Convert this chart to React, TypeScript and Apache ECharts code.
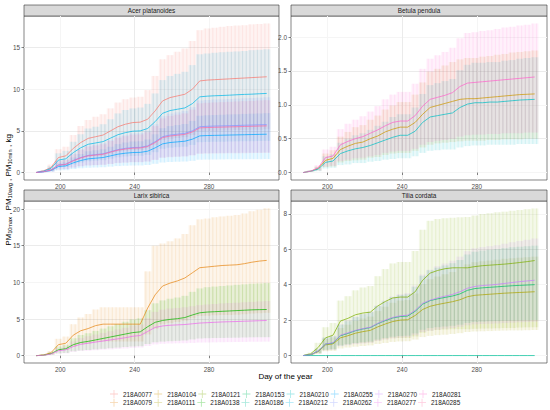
import React, { useEffect, useRef } from "react";
import * as echarts from "echarts";

// ---------- data ----------
const DAYS = [187, 191, 195, 199, 203, 207, 211, 215, 219, 223, 227, 231, 235, 239, 243, 247, 251, 255, 259, 263, 267, 271, 275, 279, 283, 287, 291, 295, 299, 303, 307, 311];

const PANELS = ["Acer platanoides", "Betula pendula", "Larix sibirica", "Tilia cordata"];
const X_TICKS = [200, 240, 280];
const Y_TICKS = [[0, 5, 10, 15], [0, 0.5, 1, 1.5, 2], [0, 5, 10, 15, 20], [0, 2, 4, 6, 8]];
const Y_MIN = [-0.9, -0.11, -1.0, -0.42];
const Y_MAX = [18.8, 2.31, 21.1, 8.72];
const Y_STEP = [2.5, 0.25, 2.5, 1];
const X_MIN = 180.5;
const X_MAX = 317.6;
const X_STEP = 20;

const LEGEND_ROW1 = ["218A0077", "218A0104", "218A0121", "218A0153", "218A0210", "218A0255", "218A0270", "218A0281"];
const LEGEND_ROW2 = ["218A0079", "218A0111", "218A0138", "218A0186", "218A0212", "218A0262", "218A0277", "218A0285"];

const COLORS: Record<string, string> = {
  "218A0077": "#F8766D", "218A0079": "#E68613", "218A0104": "#CD9600", "218A0111": "#ABA300",
  "218A0121": "#7CAE00", "218A0138": "#0CB702", "218A0153": "#00BE67", "218A0186": "#00C19A",
  "218A0210": "#00BFC4", "218A0212": "#00B8E7", "218A0255": "#00A9FF", "218A0262": "#8494FF",
  "218A0270": "#C77CFF", "218A0277": "#ED68ED", "218A0281": "#FF61CC", "218A0285": "#FF68A1",
};

// Acer platanoides
const A0077_MEAN = [0, 0.2, 0.6, 1.8, 2.0, 2.9, 3.6, 4.1, 4.3, 4.5, 5.0, 5.5, 5.8, 6.0, 6.05, 6.4, 7.4, 8.6, 9.0, 9.2, 9.4, 10.0, 11.0, 11.1, 11.15, 11.2, 11.25, 11.3, 11.35, 11.4, 11.45, 11.5];
const A0077_HI = [0, 0.3, 0.95, 2.8, 3.1, 4.5, 5.6, 6.3, 6.7, 7.0, 7.7, 8.4, 8.8, 9.0, 9.1, 9.9, 11.6, 13.6, 14.1, 14.5, 14.9, 15.8, 17.1, 17.3, 17.4, 17.5, 17.6, 17.65, 17.7, 17.8, 17.85, 17.9];
const A0077_LO = [0, 0.09, 0.27, 0.8, 0.9, 1.3, 1.6, 1.85, 1.95, 2.0, 2.25, 2.5, 2.6, 2.7, 2.7, 2.9, 3.3, 3.9, 4.05, 4.15, 4.25, 4.5, 4.95, 5.0, 5.0, 5.05, 5.05, 5.1, 5.1, 5.15, 5.15, 5.2];

const A0212_MEAN = [0, 0.16, 0.49, 1.49, 1.65, 2.39, 2.97, 3.39, 3.55, 3.71, 4.13, 4.54, 4.79, 4.96, 5.0, 5.29, 6.11, 7.11, 7.44, 7.6, 7.76, 8.27, 9.09, 9.17, 9.22, 9.25, 9.29, 9.34, 9.38, 9.41, 9.46, 9.5];
const A0212_HI = [0, 0.25, 0.76, 2.3, 2.6, 3.7, 4.6, 5.3, 5.5, 5.8, 6.4, 7.1, 7.5, 7.7, 7.8, 8.25, 9.5, 11.1, 11.6, 11.85, 12.1, 12.9, 14.2, 14.3, 14.4, 14.45, 14.5, 14.55, 14.6, 14.7, 14.75, 14.8];
const A0212_LO = [0, 0.06, 0.2, 0.6, 0.66, 0.96, 1.19, 1.36, 1.42, 1.48, 1.65, 1.82, 1.92, 1.98, 2.0, 2.12, 2.44, 2.84, 2.98, 3.04, 3.1, 3.31, 3.64, 3.67, 3.69, 3.7, 3.72, 3.74, 3.75, 3.76, 3.78, 3.8];

const A0262_MEAN = [0, 0.1, 0.3, 0.9, 1.0, 1.45, 1.8, 2.05, 2.15, 2.25, 2.5, 2.75, 2.9, 3.0, 3.02, 3.2, 3.7, 4.3, 4.5, 4.6, 4.7, 5.0, 5.5, 5.55, 5.58, 5.6, 5.62, 5.65, 5.68, 5.7, 5.73, 5.75];
const A0262_HI = [0, 0.16, 0.47, 1.41, 1.57, 2.28, 2.83, 3.22, 3.38, 3.53, 3.93, 4.32, 4.55, 4.71, 4.74, 5.02, 5.81, 6.75, 7.07, 7.22, 7.38, 7.85, 8.64, 8.71, 8.76, 8.79, 8.82, 8.87, 8.92, 8.95, 8.99, 9.03];
const A0262_LO = [0, 0.04, 0.13, 0.38, 0.42, 0.61, 0.76, 0.86, 0.9, 0.95, 1.05, 1.16, 1.22, 1.26, 1.27, 1.34, 1.55, 1.81, 1.89, 1.93, 1.97, 2.1, 2.31, 2.33, 2.34, 2.35, 2.36, 2.37, 2.39, 2.39, 2.41, 2.42];

const A0285_MEAN = [0, 0.1, 0.29, 0.88, 0.97, 1.41, 1.75, 2.0, 2.09, 2.19, 2.44, 2.68, 2.82, 2.92, 2.95, 3.12, 3.6, 4.19, 4.38, 4.48, 4.58, 4.87, 5.36, 5.4, 5.43, 5.45, 5.48, 5.5, 5.53, 5.55, 5.58, 5.6];
const A0285_HI = [0, 0.15, 0.45, 1.36, 1.5, 2.19, 2.71, 3.1, 3.24, 3.39, 3.78, 4.15, 4.37, 4.53, 4.57, 4.84, 5.58, 6.49, 6.79, 6.94, 7.1, 7.55, 8.31, 8.37, 8.42, 8.45, 8.49, 8.53, 8.57, 8.6, 8.65, 8.68];
const A0285_LO = [0, 0.04, 0.12, 0.37, 0.41, 0.59, 0.74, 0.84, 0.88, 0.92, 1.02, 1.13, 1.18, 1.23, 1.24, 1.31, 1.51, 1.76, 1.84, 1.88, 1.92, 2.05, 2.25, 2.27, 2.28, 2.29, 2.3, 2.31, 2.32, 2.33, 2.34, 2.35];

const A0255_MEAN = [0, 0.08, 0.24, 0.72, 0.8, 1.16, 1.44, 1.64, 1.72, 1.8, 2.0, 2.2, 2.32, 2.4, 2.42, 2.56, 2.96, 3.44, 3.6, 3.68, 3.76, 4.0, 4.4, 4.44, 4.46, 4.48, 4.5, 4.52, 4.54, 4.56, 4.58, 4.6];
const A0255_HI = [0, 0.12, 0.37, 1.12, 1.24, 1.8, 2.23, 2.54, 2.67, 2.79, 3.1, 3.41, 3.6, 3.72, 3.75, 3.97, 4.59, 5.33, 5.58, 5.7, 5.83, 6.2, 6.82, 6.88, 6.91, 6.94, 6.98, 7.0, 7.04, 7.07, 7.1, 7.13];
const A0255_LO = [0, 0.03, 0.08, 0.25, 0.28, 0.41, 0.5, 0.57, 0.6, 0.63, 0.7, 0.77, 0.81, 0.84, 0.85, 0.9, 1.04, 1.2, 1.26, 1.29, 1.32, 1.4, 1.54, 1.55, 1.56, 1.57, 1.58, 1.58, 1.59, 1.6, 1.6, 1.61];

// Betula pendula
const B0281_MEAN = [0, 0.02, 0.07, 0.22, 0.245, 0.41, 0.46, 0.5, 0.53, 0.58, 0.63, 0.69, 0.74, 0.76, 0.76, 0.84, 0.98, 1.08, 1.11, 1.14, 1.18, 1.27, 1.32, 1.33, 1.34, 1.35, 1.36, 1.37, 1.38, 1.39, 1.4, 1.41];
const B0281_HI = [0, 0.03, 0.11, 0.34, 0.38, 0.64, 0.72, 0.78, 0.83, 0.9, 0.98, 1.08, 1.15, 1.19, 1.19, 1.31, 1.53, 1.68, 1.73, 1.78, 1.84, 1.98, 2.06, 2.07, 2.09, 2.1, 2.12, 2.14, 2.15, 2.17, 2.18, 2.2];
const B0281_LO = [0, 0.01, 0.03, 0.09, 0.1, 0.17, 0.19, 0.21, 0.22, 0.24, 0.26, 0.29, 0.31, 0.32, 0.32, 0.35, 0.41, 0.45, 0.47, 0.48, 0.5, 0.53, 0.55, 0.56, 0.56, 0.57, 0.57, 0.58, 0.58, 0.58, 0.59, 0.59];

const B0104_MEAN = [0, 0.02, 0.06, 0.18, 0.21, 0.34, 0.39, 0.43, 0.45, 0.5, 0.54, 0.6, 0.64, 0.67, 0.67, 0.74, 0.86, 0.96, 0.99, 1.02, 1.05, 1.08, 1.09, 1.09, 1.1, 1.11, 1.12, 1.13, 1.14, 1.15, 1.155, 1.16];
const B0104_HI = [0, 0.03, 0.09, 0.28, 0.33, 0.53, 0.6, 0.67, 0.7, 0.78, 0.84, 0.93, 0.99, 1.04, 1.04, 1.15, 1.33, 1.49, 1.53, 1.58, 1.63, 1.67, 1.69, 1.69, 1.71, 1.72, 1.74, 1.75, 1.77, 1.78, 1.79, 1.8];
const B0104_LO = [0, 0.01, 0.03, 0.08, 0.09, 0.15, 0.17, 0.18, 0.19, 0.22, 0.23, 0.26, 0.28, 0.29, 0.29, 0.32, 0.37, 0.41, 0.43, 0.44, 0.45, 0.46, 0.47, 0.47, 0.47, 0.48, 0.48, 0.49, 0.49, 0.49, 0.5, 0.5];

const B0210_MEAN = [0, 0.02, 0.05, 0.15, 0.17, 0.28, 0.32, 0.35, 0.37, 0.4, 0.44, 0.48, 0.52, 0.55, 0.55, 0.61, 0.74, 0.82, 0.84, 0.86, 0.88, 0.96, 1.01, 1.03, 1.03, 1.04, 1.04, 1.05, 1.06, 1.07, 1.075, 1.08];
const B0210_HI = [0, 0.03, 0.08, 0.24, 0.27, 0.44, 0.5, 0.55, 0.58, 0.63, 0.69, 0.75, 0.82, 0.86, 0.86, 0.96, 1.16, 1.29, 1.32, 1.35, 1.38, 1.51, 1.59, 1.62, 1.62, 1.63, 1.63, 1.65, 1.66, 1.68, 1.69, 1.7];
const B0210_LO = [0, 0.01, 0.02, 0.06, 0.07, 0.11, 0.12, 0.14, 0.14, 0.16, 0.17, 0.19, 0.2, 0.21, 0.21, 0.24, 0.29, 0.32, 0.33, 0.34, 0.34, 0.37, 0.39, 0.4, 0.4, 0.41, 0.41, 0.41, 0.41, 0.42, 0.42, 0.42];

// Larix sibirica
const L0079_MEAN = [0, 0.1, 0.4, 1.5, 1.7, 2.8, 3.4, 3.7, 4.1, 4.3, 4.3, 4.3, 4.3, 4.3, 4.3, 6.5, 8.3, 9.5, 9.9, 10.2, 10.6, 11.3, 12.0, 12.1, 12.2, 12.3, 12.35, 12.4, 12.55, 12.75, 12.9, 13.0];
const L0079_HI = [0, 0.16, 0.62, 2.3, 2.6, 4.3, 5.2, 5.7, 6.3, 6.6, 6.6, 6.6, 6.6, 6.6, 6.6, 11.5, 15.0, 15.3, 15.6, 16.0, 16.6, 17.8, 18.6, 18.7, 18.9, 19.0, 19.1, 19.2, 19.4, 19.7, 19.9, 20.1];
const L0079_LO = [0, 0.05, 0.18, 0.68, 0.77, 1.26, 1.53, 1.67, 1.85, 1.94, 1.94, 1.94, 1.94, 1.94, 1.94, 2.9, 3.7, 4.3, 4.45, 4.6, 4.77, 5.1, 5.4, 5.45, 5.5, 5.55, 5.56, 5.58, 5.65, 5.74, 5.8, 5.85];

const L0138_MEAN = [0, 0.07, 0.27, 0.8, 0.95, 1.5, 1.8, 1.95, 2.15, 2.35, 2.55, 2.75, 2.95, 3.15, 3.25, 3.95, 4.55, 4.8, 4.95, 5.05, 5.2, 5.55, 5.85, 5.95, 6.0, 6.05, 6.1, 6.15, 6.2, 6.25, 6.28, 6.3];
const L0138_HI = [0, 0.11, 0.42, 1.26, 1.49, 2.36, 2.83, 3.06, 3.38, 3.69, 4.0, 4.32, 4.63, 4.95, 5.1, 6.2, 7.14, 7.54, 7.77, 7.93, 8.16, 8.71, 9.18, 9.34, 9.42, 9.5, 9.58, 9.66, 9.73, 9.81, 9.86, 9.9];
const L0138_LO = [0, 0.03, 0.11, 0.32, 0.38, 0.6, 0.72, 0.78, 0.86, 0.94, 1.02, 1.1, 1.18, 1.26, 1.3, 1.58, 1.82, 1.92, 1.98, 2.02, 2.08, 2.22, 2.34, 2.38, 2.4, 2.42, 2.44, 2.46, 2.48, 2.5, 2.51, 2.52];

const L0277_MEAN = [0, 0.06, 0.22, 0.68, 0.8, 1.25, 1.55, 1.7, 1.85, 2.0, 2.15, 2.3, 2.45, 2.65, 2.75, 3.3, 3.85, 4.05, 4.15, 4.2, 4.25, 4.35, 4.45, 4.5, 4.55, 4.6, 4.63, 4.66, 4.7, 4.73, 4.77, 4.8];
const L0277_HI = [0, 0.09, 0.34, 1.05, 1.24, 1.94, 2.4, 2.64, 2.87, 3.1, 3.33, 3.57, 3.8, 4.11, 4.26, 5.12, 5.97, 6.28, 6.43, 6.51, 6.59, 6.74, 6.9, 6.98, 7.05, 7.13, 7.18, 7.22, 7.29, 7.33, 7.39, 7.44];
const L0277_LO = [0, 0.02, 0.09, 0.27, 0.32, 0.5, 0.62, 0.68, 0.74, 0.8, 0.86, 0.92, 0.98, 1.06, 1.1, 1.32, 1.54, 1.62, 1.66, 1.68, 1.7, 1.74, 1.78, 1.8, 1.82, 1.84, 1.85, 1.86, 1.88, 1.89, 1.91, 1.92];

// Tilia cordata
const T0121_MEAN = [0, 0.1, 0.45, 1.0, 1.15, 1.95, 2.1, 2.3, 2.4, 2.45, 2.8, 3.05, 3.25, 3.3, 3.3, 3.6, 4.25, 4.65, 4.8, 4.9, 4.95, 4.95, 4.95, 5.02, 5.07, 5.1, 5.13, 5.16, 5.2, 5.25, 5.3, 5.36];
const T0121_HI = [0, 0.16, 0.72, 1.6, 1.84, 3.1, 3.35, 3.68, 3.84, 3.92, 4.48, 4.88, 5.2, 5.28, 5.28, 5.9, 7.1, 7.6, 7.7, 7.75, 7.78, 7.8, 7.82, 7.9, 7.98, 8.03, 8.08, 8.12, 8.17, 8.21, 8.26, 8.3];
const T0121_LO = [0, 0.03, 0.14, 0.3, 0.35, 0.58, 0.63, 0.69, 0.72, 0.74, 0.84, 0.92, 0.98, 0.99, 0.99, 1.08, 1.28, 1.4, 1.44, 1.47, 1.49, 1.49, 1.49, 1.51, 1.52, 1.53, 1.54, 1.55, 1.56, 1.58, 1.59, 1.6];

const T0270_MEAN = [0, 0.05, 0.25, 0.65, 0.72, 1.15, 1.28, 1.42, 1.52, 1.6, 1.82, 2.0, 2.15, 2.24, 2.28, 2.55, 2.95, 3.12, 3.25, 3.35, 3.45, 3.6, 3.8, 3.9, 3.95, 3.98, 4.02, 4.07, 4.12, 4.17, 4.21, 4.25];
const T0270_HI = [0, 0.08, 0.39, 1.01, 1.12, 1.78, 1.98, 2.2, 2.36, 2.48, 2.82, 3.1, 3.33, 3.47, 3.53, 3.95, 4.57, 4.84, 5.04, 5.19, 5.35, 5.58, 5.89, 6.05, 6.12, 6.17, 6.23, 6.31, 6.39, 6.46, 6.53, 6.6];
const T0270_LO = [0, 0.02, 0.11, 0.29, 0.32, 0.52, 0.58, 0.64, 0.68, 0.72, 0.82, 0.9, 0.97, 1.01, 1.03, 1.15, 1.33, 1.4, 1.46, 1.51, 1.55, 1.62, 1.71, 1.76, 1.78, 1.79, 1.81, 1.83, 1.85, 1.88, 1.89, 1.91];

const T0153_MEAN = [0, 0.05, 0.25, 0.65, 0.7, 1.12, 1.25, 1.4, 1.5, 1.58, 1.8, 1.97, 2.12, 2.2, 2.23, 2.5, 2.9, 3.1, 3.2, 3.28, 3.36, 3.48, 3.68, 3.78, 3.82, 3.85, 3.88, 3.91, 3.94, 3.96, 3.98, 4.0];
const T0153_HI = [0, 0.08, 0.39, 1.01, 1.09, 1.74, 1.94, 2.17, 2.33, 2.45, 2.79, 3.05, 3.29, 3.41, 3.46, 3.88, 4.5, 4.81, 4.96, 5.08, 5.21, 5.39, 5.7, 5.86, 5.92, 5.97, 6.01, 6.06, 6.11, 6.14, 6.17, 6.2];
const T0153_LO = [0, 0.03, 0.13, 0.33, 0.35, 0.56, 0.63, 0.7, 0.75, 0.79, 0.9, 0.99, 1.06, 1.1, 1.12, 1.25, 1.45, 1.55, 1.6, 1.64, 1.68, 1.74, 1.84, 1.89, 1.91, 1.93, 1.94, 1.96, 1.97, 1.98, 1.99, 2.0];

const T0111_MEAN = [0, 0.05, 0.22, 0.6, 0.66, 1.0, 1.12, 1.26, 1.35, 1.42, 1.62, 1.78, 1.92, 2.0, 2.02, 2.26, 2.6, 2.78, 2.88, 2.96, 3.04, 3.15, 3.32, 3.4, 3.43, 3.46, 3.49, 3.52, 3.54, 3.56, 3.58, 3.6];
const T0111_HI = [0, 0.08, 0.34, 0.93, 1.02, 1.55, 1.74, 1.95, 2.09, 2.2, 2.51, 2.76, 2.98, 3.1, 3.13, 3.5, 4.03, 4.31, 4.46, 4.59, 4.71, 4.88, 5.15, 5.27, 5.32, 5.36, 5.41, 5.46, 5.49, 5.52, 5.55, 5.58];
const T0111_LO = [0, 0.02, 0.09, 0.24, 0.26, 0.4, 0.45, 0.5, 0.54, 0.57, 0.65, 0.71, 0.77, 0.8, 0.81, 0.9, 1.04, 1.11, 1.15, 1.18, 1.22, 1.26, 1.33, 1.36, 1.37, 1.38, 1.4, 1.41, 1.42, 1.42, 1.43, 1.44];

const T0186_MEAN = [0, 0, 0, 0, 0, 0, 0, 0, 0, 0, 0, 0, 0, 0, 0, 0, 0, 0, 0, 0, 0, 0, 0, 0, 0, 0, 0, 0, 0, 0, 0, 0];

const SERIES_DEFS = [
  { name: "218A0077", panel: 0, mean: A0077_MEAN, lo: A0077_LO, hi: A0077_HI },
  { name: "218A0212", panel: 0, mean: A0212_MEAN, lo: A0212_LO, hi: A0212_HI },
  { name: "218A0255", panel: 0, mean: A0255_MEAN, lo: A0255_LO, hi: A0255_HI },
  { name: "218A0262", panel: 0, mean: A0262_MEAN, lo: A0262_LO, hi: A0262_HI },
  { name: "218A0285", panel: 0, mean: A0285_MEAN, lo: A0285_LO, hi: A0285_HI },
  { name: "218A0104", panel: 1, mean: B0104_MEAN, lo: B0104_LO, hi: B0104_HI },
  { name: "218A0210", panel: 1, mean: B0210_MEAN, lo: B0210_LO, hi: B0210_HI },
  { name: "218A0281", panel: 1, mean: B0281_MEAN, lo: B0281_LO, hi: B0281_HI },
  { name: "218A0079", panel: 2, mean: L0079_MEAN, lo: L0079_LO, hi: L0079_HI },
  { name: "218A0138", panel: 2, mean: L0138_MEAN, lo: L0138_LO, hi: L0138_HI },
  { name: "218A0277", panel: 2, mean: L0277_MEAN, lo: L0277_LO, hi: L0277_HI },
  { name: "218A0111", panel: 3, mean: T0111_MEAN, lo: T0111_LO, hi: T0111_HI },
  { name: "218A0121", panel: 3, mean: T0121_MEAN, lo: T0121_LO, hi: T0121_HI },
  { name: "218A0153", panel: 3, mean: T0153_MEAN, lo: T0153_LO, hi: T0153_HI },
  { name: "218A0186", panel: 3, mean: T0186_MEAN, lo: T0186_MEAN, hi: T0186_MEAN },
  { name: "218A0270", panel: 3, mean: T0270_MEAN, lo: T0270_LO, hi: T0270_HI },
];

// ---------- layout / style ----------
const FONT = "'Liberation Sans', Arial, Helvetica, sans-serif";
const GRIDS = [
  { left: 24, top: 16, width: 255, height: 164 },
  { left: 291, top: 16, width: 256, height: 164 },
  { left: 24, top: 201, width: 255, height: 162 },
  { left: 291, top: 201, width: 256, height: 162 },
];
const STRIP_H = 11;
const MAJOR = "#EBEBEB";
const MINOR = "#F5F5F5";

function hexA(hex: string, a: number) {
  const r = parseInt(hex.slice(1, 3), 16);
  const g = parseInt(hex.slice(3, 5), 16);
  const b = parseInt(hex.slice(5, 7), 16);
  return `rgba(${r},${g},${b},${a})`;
}

function buildOption() {
  const grid = GRIDS.map((g) => ({
    ...g,
    show: true,
    borderColor: "#333333",
    borderWidth: 0.6,
    backgroundColor: "transparent",
    containLabel: false,
    outerBoundsMode: "none",
  }));

  const xAxis = GRIDS.map((_, i) => ({
    type: "value",
    gridIndex: i,
    min: X_MIN,
    max: X_MAX,
    minInterval: X_STEP,
    maxInterval: X_STEP,
    axisLine: { show: false },
    axisTick: { show: true, length: 2.5, lineStyle: { color: "#333333", width: 0.6 }, customValues: X_TICKS },
    axisLabel: { show: true, customValues: X_TICKS, color: "#4D4D4D", fontSize: 6.4, fontFamily: FONT, margin: 3 },
    splitLine: { show: true, lineStyle: { color: [MINOR, MAJOR], width: 1 } },
  }));

  const yAxis = GRIDS.map((_, i) => ({
    type: "value",
    gridIndex: i,
    min: Y_MIN[i],
    max: Y_MAX[i],
    minInterval: Y_STEP[i],
    maxInterval: Y_STEP[i],
    axisLine: { show: false },
    axisTick: { show: true, length: 2.5, lineStyle: { color: "#333333", width: 0.6 }, customValues: Y_TICKS[i] },
    axisLabel: {
      show: true,
      customValues: Y_TICKS[i],
      color: "#4D4D4D",
      fontSize: 6.4,
      fontFamily: FONT,
      margin: 4,
      formatter: (v: number) => (i === 1 ? v.toFixed(1) : String(v)),
    },
    splitLine: { show: true, lineStyle: { color: [MINOR, MAJOR], width: 1 } },
  }));

  const series: any[] = [];
  SERIES_DEFS.forEach((s) => {
    const color = COLORS[s.name];
    series.push({
      type: "custom",
      name: s.name,
      xAxisIndex: s.panel,
      yAxisIndex: s.panel,
      z: 2,
      clip: true,
      silent: true,
      encode: { x: 0, y: [1, 2] },
      data: DAYS.map((d, k) => [d, s.lo[k], s.hi[k]]),
      renderItem: (params: any, api: any) => {
        const x = api.value(0);
        const pLo = api.coord([x, api.value(1)]);
        const pHi = api.coord([x, api.value(2)]);
        const slot = api.size([4, 0])[0];
        const h = Math.max(pLo[1] - pHi[1], 0);
        const children: any[] = [
          {
            type: "rect",
            shape: { x: pLo[0] - slot / 2, y: pHi[1], width: slot, height: h },
            style: { fill: hexA(color, 0.085) },
          },
        ];
        [-0.25, 0.25].forEach((f) => {
          children.push({
            type: "rect",
            shape: { x: pLo[0] + f * slot - 0.6, y: pHi[1], width: 1.2, height: h },
            style: { fill: hexA(color, 0.1) },
          });
        });
        return { type: "group", children };
      },
    });
  });
  SERIES_DEFS.forEach((s) => {
    const color = COLORS[s.name];
    series.push({
      type: "line",
      name: s.name,
      xAxisIndex: s.panel,
      yAxisIndex: s.panel,
      z: 3,
      showSymbol: false,
      symbol: "none",
      silent: true,
      lineStyle: { color, width: 0.8, opacity: 0.9 },
      itemStyle: { color },
      data: DAYS.map((d, k) => [d, s.mean[k]]),
    });
  });

  const icon = "path://M0,4.5H10V5.5H0Z M4.5,0H5.5V10H4.5Z";
  const legendCommon = {
    orient: "horizontal",
    left: 110,
    itemWidth: 8,
    itemHeight: 8,
    itemGap: 2,
    selectedMode: false,
    padding: 0,
    textStyle: { fontSize: 6.4, fontFamily: FONT, color: "#1A1A1A" },
  };
  const legend = [
    { ...legendCommon, top: 390, data: LEGEND_ROW1.map((n) => ({ name: n, icon, itemStyle: { color: hexA(COLORS[n], 0.35) } })) },
    { ...legendCommon, top: 398.7, data: LEGEND_ROW2.map((n) => ({ name: n, icon, itemStyle: { color: hexA(COLORS[n], 0.35) } })) },
  ];

  const graphic: any[] = [];
  GRIDS.forEach((g, i) => {
    graphic.push({
      type: "rect",
      silent: true,
      shape: { x: g.left, y: g.top - STRIP_H, width: g.width, height: STRIP_H },
      style: { fill: "#D9D9D9", stroke: "#333333", lineWidth: 0.6 },
    });
    graphic.push({
      type: "text",
      silent: true,
      x: g.left + g.width / 2,
      y: g.top - STRIP_H / 2,
      style: { text: PANELS[i], fill: "#1A1A1A", fontSize: 6.4, fontFamily: FONT, align: "center", verticalAlign: "middle" },
    });
  });
  graphic.push({
    type: "text",
    silent: true,
    x: 285.5,
    y: 376,
    style: { text: "Day of the year", fill: "#000000", fontSize: 8, fontFamily: FONT, align: "center", verticalAlign: "middle" },
  });
  graphic.push({
    type: "text",
    silent: true,
    x: 8,
    y: 190,
    rotation: Math.PI / 2,
    style: {
      text: "{a|PM}{s|10max}{a| , PM}{s|10avg}{a| , PM}{s|10min}{a| , kg}",
      align: "center",
      verticalAlign: "middle",
      rich: {
        a: { fontSize: 8, fontFamily: FONT, fill: "#000000", lineHeight: 10, verticalAlign: "middle" },
        s: { fontSize: 5.6, fontFamily: FONT, fill: "#000000", lineHeight: 10, verticalAlign: "bottom" },
      },
    },
  });

  return {
    animation: false,
    backgroundColor: "#FFFFFF",
    grid,
    xAxis,
    yAxis,
    legend,
    series,
    graphic,
  };
}

export default function App() {
  const ref = useRef<HTMLDivElement | null>(null);
  useEffect(() => {
    if (!ref.current) return;
    const chart = echarts.init(ref.current, undefined, { renderer: "svg" });
    chart.setOption(buildOption() as any);
    return () => chart.dispose();
  }, []);
  return (
    <div
      ref={ref}
      style={{ position: "absolute", left: 0, top: 0, width: 550, height: 410, background: "#fff" }}
    />
  );
}
